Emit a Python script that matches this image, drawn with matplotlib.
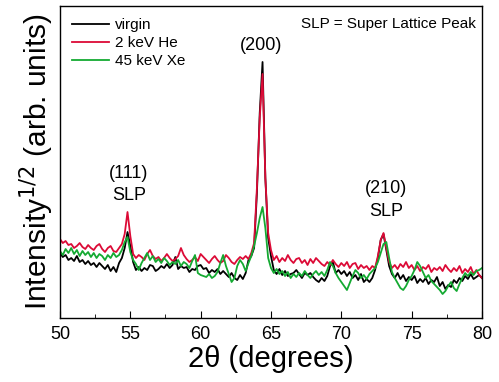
import numpy as np
import matplotlib
matplotlib.use('Agg')
import matplotlib.pyplot as plt
from matplotlib.ticker import MultipleLocator

plt.rcParams['font.family'] = ['Liberation Sans', 'DejaVu Sans']

# 2theta grid, 0.2 deg steps from 50 to 80
two_theta = np.round(np.arange(50.0, 80.0001, 0.2), 1)

# sqrt intensity (arb. units)
virgin = [
    65, 61, 63, 58, 60, 57, 62, 56, 58, 54, 57, 53, 55, 51, 55, 52, 49, 53, 47, 51,
    46, 55, 60, 70, 86, 72, 56, 48, 51, 47, 50, 48, 53, 52, 47, 49, 52, 50, 54, 50,
    53, 61, 49, 52, 50, 51, 46, 49, 48, 52, 53, 49, 50, 45, 48, 46, 49, 44, 47, 44,
    41, 45, 40, 38, 43, 39, 45, 58, 62, 70, 125, 205, 256, 140, 80, 62, 48, 44, 49, 43,
    47, 42, 44, 45, 48, 44, 40, 45, 43, 45, 41, 38, 36, 40, 37, 42, 52, 56, 45, 48,
    44, 47, 42, 46, 40, 43, 38, 44, 36, 39, 36, 40, 48, 60, 78, 84, 68, 52, 44, 40,
    45, 39, 43, 37, 41, 38, 42, 35, 39, 36, 40, 34, 38, 36, 41, 32, 36, 29, 33, 31,
    38, 35, 40, 37, 42, 39, 44, 39, 41, 43, 40,
]
he_2kev = [
    79, 75, 77, 73, 74, 70, 72, 75, 71, 69, 73, 70, 68, 72, 74, 69, 66, 70, 72, 67,
    66, 70, 74, 84, 106, 82, 64, 60, 63, 61, 58, 64, 68, 62, 59, 61, 57, 60, 64, 60,
    57, 59, 62, 70, 63, 59, 56, 58, 61, 57, 64, 61, 58, 55, 59, 62, 58, 55, 57, 63,
    60, 56, 54, 58, 61, 59, 62, 59, 65, 75, 130, 200, 244, 140, 85, 68, 58, 62, 56, 60,
    57, 63, 58, 55, 59, 60, 55, 58, 53, 59, 55, 60, 57, 54, 52, 56, 53, 58, 54, 51,
    55, 52, 56, 50, 54, 55, 49, 53, 50, 52, 48, 52, 50, 62, 78, 85, 70, 56, 50, 53,
    49, 54, 51, 56, 50, 53, 48, 52, 47, 51, 49, 53, 46, 50, 48, 51, 47, 53, 49, 46,
    50, 47, 52, 45, 49, 46, 51, 44, 48, 43, 40,
]
xe_45kev = [
    67, 63, 69, 65, 70, 64, 68, 62, 67, 63, 66, 61, 65, 60, 64, 62, 58, 63, 60, 65,
    61, 63, 68, 76, 81, 66, 58, 54, 48, 55, 60, 65, 58, 62, 56, 59, 55, 60, 57, 53,
    56, 54, 58, 52, 56, 54, 50, 57, 63, 45, 43, 42, 41, 44, 40, 42, 46, 55, 63, 52,
    44, 36, 40, 52, 58, 54, 47, 55, 62, 72, 85, 100, 111, 90, 60, 50, 45, 49, 44, 47,
    42, 46, 40, 44, 41, 45, 42, 47, 43, 40, 44, 47, 43, 46, 42, 48, 56, 52, 45, 40,
    36, 32, 28, 35, 42, 48, 45, 40, 43, 39, 44, 47, 50, 56, 65, 74, 76, 60, 46, 40,
    35, 30, 28, 32, 38, 42, 48, 56, 52, 46, 40, 43, 37, 34, 31, 28, 24, 27, 32, 36,
    30, 27, 34, 40, 45, 42, 46, 43, 47, 48, 50,
]

series = [('virgin', virgin, 'black'),
          ('2 keV He', he_2kev, '#dc0a36'),
          ('45 keV Xe', xe_45kev, '#14aa32')]

fig = plt.figure(figsize=(4.99, 3.82), dpi=100)
ax = fig.add_axes([0.1202, 0.1675, 0.8457, 0.8168])

for label, vals, color in series:
    ax.plot(two_theta, vals, color=color, lw=1.3, label=label)

ax.set_xlim(50, 80)
ax.set_ylim(0, 312)
ax.xaxis.set_major_locator(MultipleLocator(5))
ax.xaxis.set_minor_locator(MultipleLocator(2.5))
ax.tick_params(axis='x', which='both', direction='in', top=False, labelsize=13, pad=6)
ax.tick_params(axis='x', which='major', length=5)
ax.tick_params(axis='x', which='minor', length=3)
ax.set_yticks([])
for s in ax.spines.values():
    s.set_linewidth(1.0)

ax.set_xlabel('2θ (degrees)', fontsize=21, labelpad=1)
ax.set_ylabel('Intensity$^{1/2}$ (arb. units)', fontsize=21.5, labelpad=3)

ax.legend(loc='upper left', frameon=False, fontsize=11, handlelength=2.4,
          handletextpad=0.4, labelspacing=0.25, borderaxespad=0.4)
ax.text(0.985, 0.965, 'SLP = Super Lattice Peak', transform=ax.transAxes,
        ha='right', va='top', fontsize=11)

ax.text(64.3, 272, '(200)', ha='center', va='center', fontsize=13)
ax.text(54.9, 145, '(111)', ha='center', va='center', fontsize=13)
ax.text(54.9, 123, 'SLP', ha='center', va='center', fontsize=13)
ax.text(73.2, 130, '(210)', ha='center', va='center', fontsize=13)
ax.text(73.2, 107, 'SLP', ha='center', va='center', fontsize=13)

fig.savefig('out.png', dpi=100)
